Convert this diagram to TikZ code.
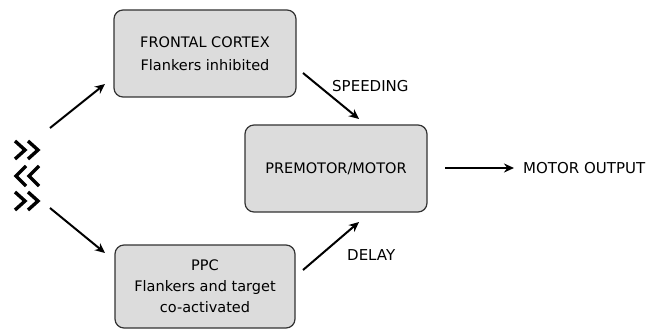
\documentclass[tikz,border=0pt]{standalone}
\usepackage{fontspec}
\setmainfont{DejaVu Sans}
\usetikzlibrary{arrows.meta}
\definecolor{boxfill}{HTML}{DCDCDC}
\definecolor{boxline}{HTML}{333333}
\tikzset{
  blockbox/.style={draw=boxline, line width=1.2pt, fill=boxfill, rounded corners=9pt,
    align=center, font=\fontsize{14.5}{21}\selectfont, inner sep=0pt},
  flowarrow/.style={line width=2pt, -{Stealth[length=10pt,width=9pt]}},
  lbl/.style={font=\fontsize{15}{18}\selectfont, inner sep=0pt},
  chev/.style={line width=3.4pt, miter limit=10},
}
\begin{document}
\begin{tikzpicture}[x=1pt,y=-1pt]
\useasboundingbox (0,0) rectangle (655,331);
\node[blockbox, minimum width=182pt, minimum height=87pt] (fc) at (205,53.5)
  {FRONTAL CORTEX\\[2pt]Flankers inhibited};
\node[blockbox, minimum width=180pt, minimum height=83pt] (ppc) at (205,286.5)
  {PPC\\Flankers and target\\co-activated};
\node[blockbox, minimum width=182pt, minimum height=87pt] (pm) at (336,168.5)
  {PREMOTOR/MOTOR};
\node[lbl, anchor=west] (out) at (523,168) {MOTOR OUTPUT};
\node[lbl, anchor=west] (spd) at (332,86) {SPEEDING};
\node[lbl, anchor=west] (dly) at (347,255) {DELAY};
% chevrons
\draw[chev] (15,141) -- (25,150) -- (15,159);
\draw[chev] (28,141) -- (38,150) -- (28,159);
\draw[chev] (26,166) -- (16,176) -- (26,186);
\draw[chev] (39,166) -- (29,176) -- (39,186);
\draw[chev] (15,192) -- (25,201) -- (15,210);
\draw[chev] (28,192) -- (38,201) -- (28,210);
% arrows
\coordinate (a1s) at (50,128);
\coordinate (a1e) at (105,84);
\coordinate (a2s) at (50,208);
\coordinate (a2e) at (105,253);
\coordinate (a3s) at (303,73);
\coordinate (a3e) at (359,119);
\coordinate (a4s) at (303,270);
\coordinate (a4e) at (359,222);
\coordinate (a5s) at (445,168);
\coordinate (a5e) at (514,168);
\draw[flowarrow] (a1s) -- (a1e);
\draw[flowarrow] (a2s) -- (a2e);
\draw[flowarrow] (a3s) -- (a3e);
\draw[flowarrow] (a4s) -- (a4e);
\draw[flowarrow] (a5s) -- (a5e);
\end{tikzpicture}
\end{document}
